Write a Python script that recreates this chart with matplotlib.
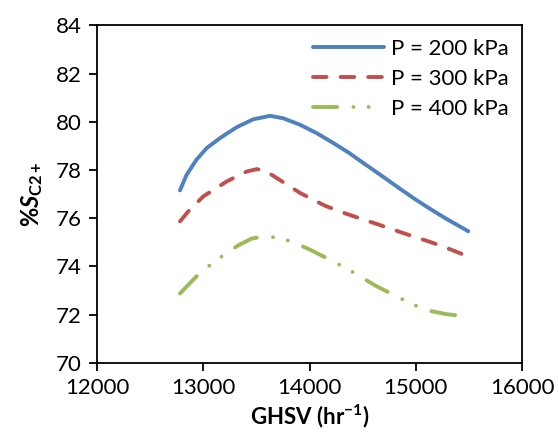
import matplotlib
matplotlib.use('Agg')
import matplotlib.pyplot as plt

plt.rcParams['font.family'] = ['Lato', 'DejaVu Sans']
plt.rcParams['mathtext.fontset'] = 'custom'
plt.rcParams['mathtext.rm'] = 'Lato:bold'
plt.rcParams['mathtext.it'] = 'Lato:bold:italic'
plt.rcParams['mathtext.bf'] = 'Lato:bold'

# GHSV values and selectivity for each pressure
ghsv_200 = [12781, 12844, 12936, 13032, 13158, 13315, 13472, 13628, 13753, 13911, 14068,
            14225, 14366, 14507, 14664, 14821, 14977, 15134, 15290, 15494]
sel_200 = [77.16, 77.81, 78.43, 78.91, 79.33, 79.78, 80.11, 80.25, 80.15, 79.88, 79.53,
           79.12, 78.73, 78.29, 77.81, 77.32, 76.84, 76.39, 75.97, 75.46]

ghsv_300 = [12781, 12860, 13001, 13221, 13409, 13503, 13580, 13691, 13911, 14146, 14350,
            14648, 14899, 15160, 15330, 15500]
sel_300 = [75.87, 76.29, 76.91, 77.53, 77.94, 78.04, 77.98, 77.67, 77.05, 76.52, 76.18,
           75.74, 75.36, 74.98, 74.7, 74.4]

ghsv_400 = [12781, 12969, 13079, 13205, 13331, 13456, 13581, 13722, 13863, 14004, 14240,
            14366, 14500, 14630, 14870, 15000, 15140, 15290, 15500]
sel_400 = [72.88, 73.74, 74.11, 74.52, 74.88, 75.16, 75.25, 75.18, 74.98, 74.70, 74.17,
           73.87, 73.52, 73.18, 72.65, 72.37, 72.15, 72.02, 71.92]

labels = ['P = 200 kPa', 'P = 300 kPa', 'P = 400 kPa']
x_ticks = [12000, 13000, 14000, 15000, 16000]
y_ticks = [70, 72, 74, 76, 78, 80, 82, 84]

fig = plt.figure(figsize=(5.59, 4.32), dpi=100)
ax = fig.add_axes([0.1735, 0.160, 0.7605, 0.781])

lw = 2.8
ax.plot(ghsv_200, sel_200, color='#4F81BD', lw=lw, label=labels[0],
        solid_capstyle='round', solid_joinstyle='round')
ax.plot(ghsv_300, sel_300, color='#C0504D', lw=lw, label=labels[1],
        linestyle=(0, (3.5, 3.6)), dash_capstyle='round', dash_joinstyle='round')
ax.plot(ghsv_400, sel_400, color='#9BBB59', lw=lw, label=labels[2],
        linestyle=(0, (6.2, 4.2, 0.01, 3.9, 0.01, 4.2)), dash_capstyle='round',
        dash_joinstyle='round')

ax.set_xlim(12000, 16000)
ax.set_ylim(70, 84)
ax.set_xticks(x_ticks)
ax.set_yticks(y_ticks)
ax.tick_params(axis='both', labelsize=16, direction='out', length=6, width=1.3,
               colors='black', pad=5)
for s in ax.spines.values():
    s.set_linewidth(1.3)

ax.set_xlabel('GHSV (hr$^{-1}$)', fontsize=16, fontweight='bold', labelpad=3)
ax.set_ylabel(r'%$S_{\mathrm{C2+}}$', fontsize=17, fontweight='bold', labelpad=8)

leg = ax.legend(loc='upper right', frameon=False, fontsize=16, handlelength=3.2,
                handletextpad=0.3, labelspacing=0.45, borderaxespad=0.2,
                bbox_to_anchor=(1.0, 1.0))

fig.savefig('out.png', dpi=100)
